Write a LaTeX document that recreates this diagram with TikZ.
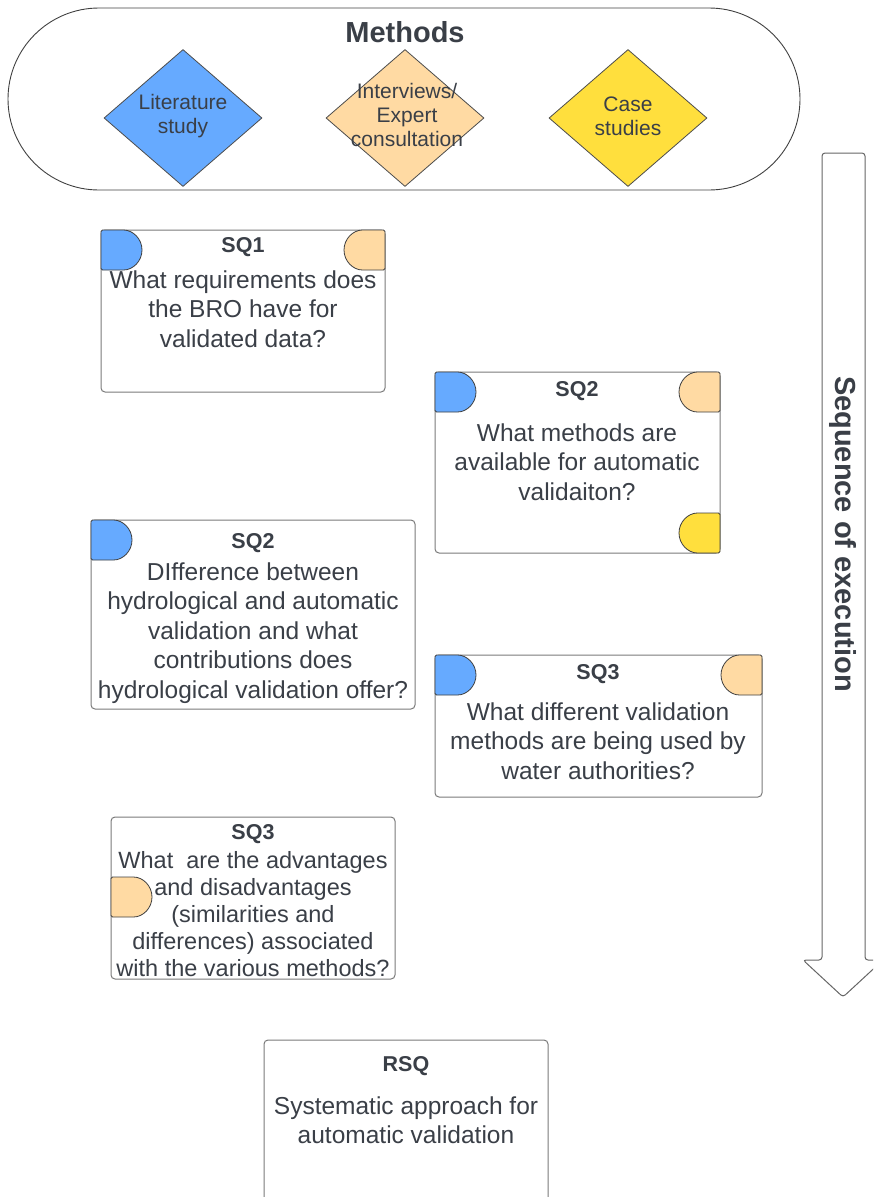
\documentclass[tikz,border=0pt]{standalone}
\usepackage{fontspec}
\setmainfont{Liberation Sans}
\usepackage{tikz}
\usetikzlibrary{shapes.geometric,arrows.meta,calc}

\definecolor{litblue}{HTML}{66AAFF}
\definecolor{intpeach}{HTML}{FFDAA3}
\definecolor{caseyellow}{HTML}{FFDF3D}
\definecolor{inkgray}{HTML}{3A3F47}
\definecolor{edgegray}{HTML}{7A7A7A}

% D-shaped method tags: flat side left (tagL) or flat side right (tagR)
\newcommand{\tagL}[2]{\filldraw[methodtag, fill=#2] (#1) -- ++(21,0) arc[start angle=90, end angle=-90, radius=20pt] -- ++(-21,0) -- cycle;}
\newcommand{\tagR}[2]{\filldraw[methodtag, fill=#2] (#1) -- ++(-21,0) arc[start angle=90, end angle=270, radius=20pt] -- ++(21,0) -- cycle;}

\begin{document}
\begin{tikzpicture}[x=1pt, y=-1pt,
  band/.style={draw=black!75, line width=0.9pt, rounded corners=91pt, minimum width=792pt, minimum height=182pt, inner sep=0pt, outer sep=0pt},
  method/.style={diamond, draw=black!70, line width=0.8pt, minimum width=158pt, minimum height=137pt, inner sep=0pt},
  mtxt/.style={text=inkgray, align=center, font=\fontsize{21}{24}\selectfont},
  headtxt/.style={text=inkgray, font=\bfseries\fontsize{29}{33}\selectfont},
  sqbox/.style={draw=edgegray, line width=1pt, rounded corners=4pt, fill=white, inner sep=0pt, outer sep=0pt},
  sqhead/.style={text=inkgray, font=\bfseries\fontsize{21.5}{24}\selectfont},
  sqtxt/.style={text=inkgray, align=center, font=\fontsize{24.5}{29.5}\selectfont},
  methodtag/.style={draw=black!75, line width=0.8pt, rounded corners=1.5pt},
  seqarrow/.style={draw=black!60, line width=1pt, rounded corners=3pt, fill=white}]
  \useasboundingbox (0,0) rectangle (873,1197);
  \clip (0,0) rectangle (873,1197);

  % methods band
  \node[band] (band) at (404,99) {};
  \node[headtxt] (mhead) at (405,32) {Methods};
  \node[method, fill=litblue] (lit) at (183,118) {};
  \node[method, fill=intpeach] (intv) at (405,118) {};
  \node[method, fill=caseyellow] (case) at (628,118) {};
  \node[mtxt] (litT) at (183,116) {Literature\\study};
  \node[mtxt] (intvT) at (407,115) {Interviews/\\Expert\\consultation};
  \node[mtxt] (caseT) at (628,116) {Case\\studies};

  % sequence arrow
  \draw[seqarrow] (822,153) -- (865,153) -- (865,960) -- (883,960) -- (843,997)
        -- (803,960) -- (822,960) -- cycle;
  \node[headtxt, rotate=-90] (seq) at (843,534) {Sequence of execution};

  % sub-questions
  \node[sqbox, minimum width=284pt, minimum height=162pt] (sq1) at (243,311) {};
  \tagL{sq1.north west}{litblue}
  \tagR{sq1.north east}{intpeach}
  \node[sqhead] (sq1h) at (243,247) {SQ1};
  \node[sqtxt] (sq1t) at (243,309) {What requirements does\\the BRO have for\\validated data?};

  \node[sqbox, minimum width=285pt, minimum height=181pt] (sq2a) at (577.5,462.5) {};
  \tagL{sq2a.north west}{litblue}
  \tagR{sq2a.north east}{intpeach}
  \tagR{$(sq2a.south east)+(0,-40)$}{caseyellow}
  \node[sqhead] (sq2ah) at (577,391) {SQ2};
  \node[sqtxt] (sq2at) at (577,462) {What methods are\\available for automatic\\validaiton?};

  \node[sqbox, minimum width=324pt, minimum height=189pt] (sq2b) at (253,614.5) {};
  \tagL{sq2b.north west}{litblue}
  \node[sqhead] (sq2bh) at (253,543) {SQ2};
  \node[sqtxt] (sq2bt) at (253,633) {DIfference between\\hydrological and automatic\\validation and what\\contributions does\\hydrological validation offer?};

  \node[sqbox, minimum width=327pt, minimum height=142pt] (sq3a) at (598.5,726) {};
  \tagL{sq3a.north west}{litblue}
  \tagR{sq3a.north east}{intpeach}
  \node[sqhead] (sq3ah) at (598,674) {SQ3};
  \node[sqtxt] (sq3at) at (598,741) {What different validation\\methods are being used by\\water authorities?};

  \node[sqbox, minimum width=284pt, minimum height=162pt] (sq3b) at (253,898) {};
  \tagL{$(sq3b.north west)+(0,60)$}{intpeach}
  \node[sqhead] (sq3bh) at (253,834) {SQ3};
  \node[sqtxt, font=\fontsize{23.5}{27}\selectfont] (sq3bt) at (253,914) {What\ \ are the advantages\\and disadvantages\\(similarities and\\differences) associated\\with the various methods?};

  % main question
  \node[sqbox, minimum width=284pt, minimum height=190pt] (rsq) at (406,1135) {};
  \node[sqhead] (rsqh) at (406,1066) {RSQ};
  \node[sqtxt] (rsqt) at (406,1120) {Systematic approach for\\automatic validation};
\end{tikzpicture}
\end{document}
